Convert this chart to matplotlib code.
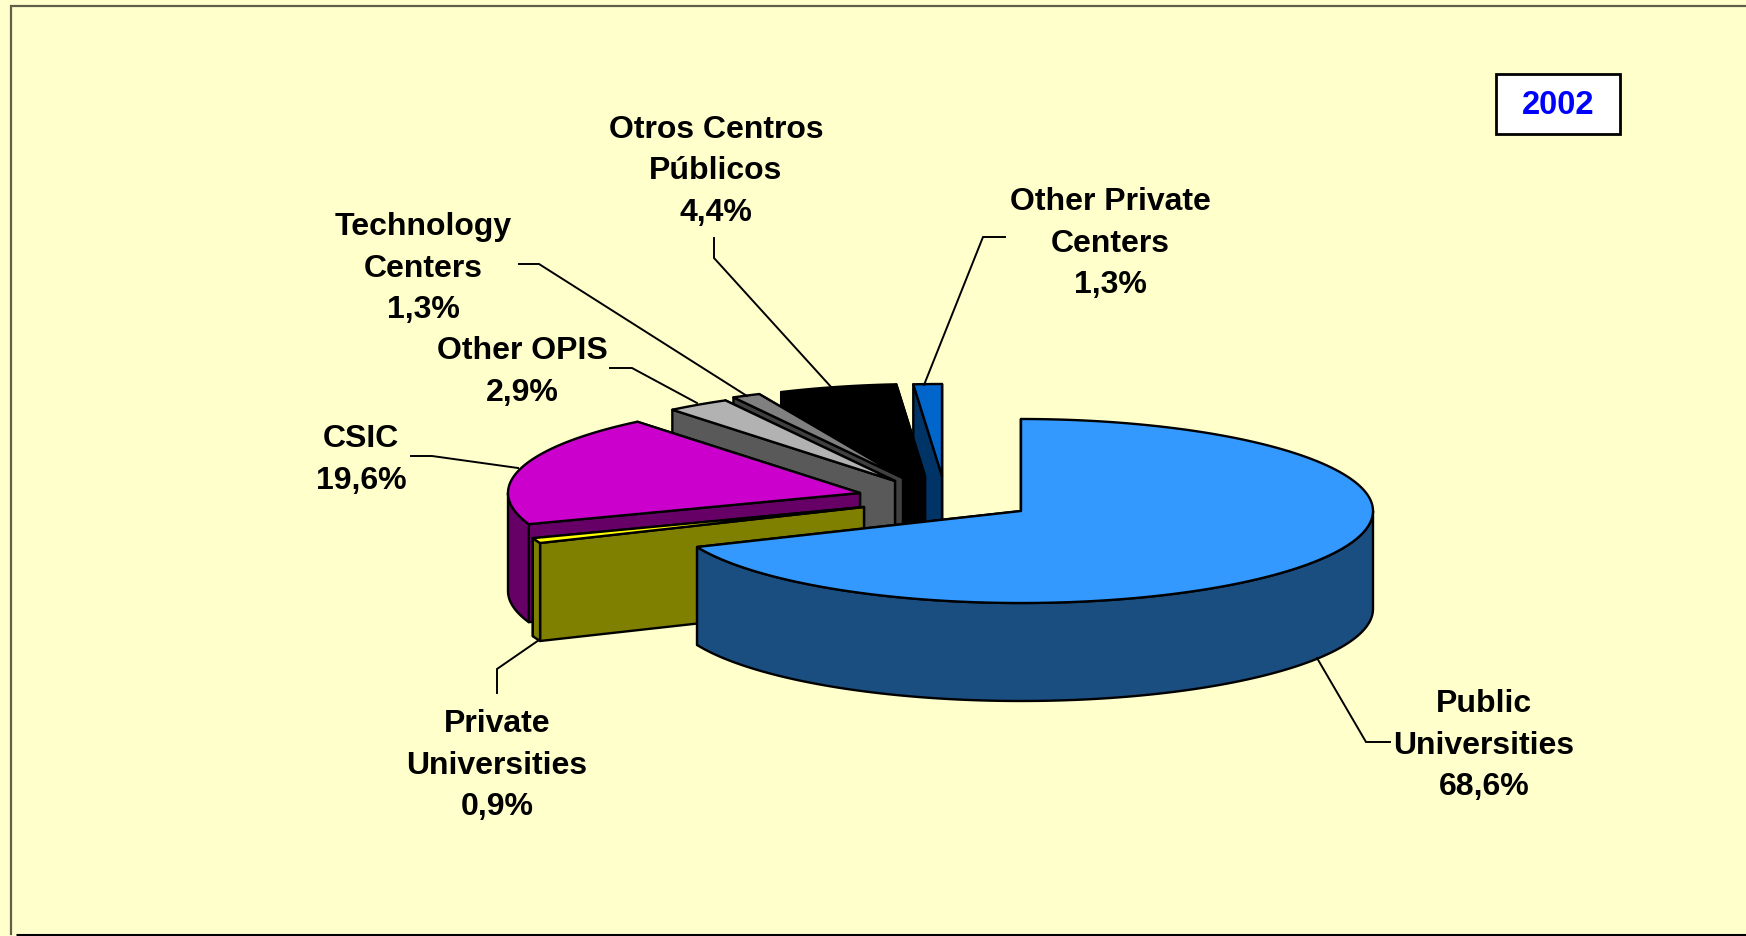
import numpy as np
import matplotlib
matplotlib.use("Agg")
import matplotlib.pyplot as plt
from matplotlib.patches import Polygon, Rectangle

plt.rcParams['font.family'] = ['Liberation Sans', 'DejaVu Sans']

# data, clockwise from 12 o'clock
names = ["Public\nUniversities", "Private\nUniversities", "CSIC", "Other OPIS",
         "Technology\nCenters", "Otros Centros\nPúblicos", "Other Private\nCenters"]
shares = [68.6, 0.9, 19.6, 2.9, 1.3, 4.4, 1.3]
year_label = "2002"

top_colors = ["#3399FF", "#FFFF00", "#CC00CC", "#B2B2B2", "#808080", "#000000", "#0066CC"]
side_colors = ["#1A4D80", "#808000", "#660066", "#595959", "#404040", "#000000", "#003366"]

# layout, in pixels of the 1746x937 picture
BG = "#FFFFCC"
CX, CY = 1021, 512
RX, RY = 352, 92
DEPTH = 98
shifts = [(0, 0), (-157, -4), (-161, -18), (-126, -30), (-118, -33), (-96, -35), (-79, -35)]
label_pos = [(1484, 746), (497, 766), (361, 460), (522, 372), (423, 269), (716, 171), (1110, 244)]
leaders = [[(1317, 659), (1366, 743), (1390, 743)],
           [(539, 641), (497, 670), (497, 694)],
           [(518, 469), (432, 457), (411, 457)],
           [(697, 404), (632, 369), (610, 369)],
           [(747, 397), (539, 265), (519, 265)],
           [(832, 389), (714, 259), (714, 239)],
           [(924, 386), (983, 238), (1005, 238)]]


def rim_xy(ax0, ay0, deg):
    t = np.radians(deg)
    return ax0 + RX * np.cos(t), ay0 - RY * np.sin(t)


def draw_wedge(ax, ax0, ay0, a1, a2, top, side):
    """a1 > a2 in degrees, drawn clockwise from a1 to a2"""
    edge = dict(edgecolor="black", linewidth=1.7, joinstyle="round")

    # radial walls, the rear one first
    for a in sorted([a1, a2], key=lambda v: -np.sin(np.radians(v))):
        x, y = rim_xy(ax0, ay0, a)
        ax.add_patch(Polygon([(ax0, ay0), (x, y), (x, y + DEPTH), (ax0, ay0 + DEPTH)],
                             facecolor=side, **edge))

    # outer wall, only the part on the front half of the ellipse
    for k in range(-1, 2):
        lo, hi = max(a2, -180 + 360 * k), min(a1, 360 * k)
        if hi > lo:
            aa = np.linspace(lo, hi, 120)
            xs, ys = rim_xy(ax0, ay0, aa)
            pts = list(zip(xs, ys)) + list(zip(xs[::-1], ys[::-1] + DEPTH))
            ax.add_patch(Polygon(pts, facecolor=side, **edge))

    # top face
    aa = np.linspace(a2, a1, 300)
    xs, ys = rim_xy(ax0, ay0, aa)
    pts = [(ax0, ay0)] + list(zip(xs, ys))
    ax.add_patch(Polygon(pts, facecolor=top, **edge))


fig = plt.figure(figsize=(17.46, 9.37), dpi=100, facecolor=BG)
ax = fig.add_axes([0, 0, 1, 1])
ax.set_xlim(0, 1746)
ax.set_ylim(937, 0)
ax.axis("off")

# outer frame
ax.plot([10.5, 10.5, 1746], [935, 7, 7], color="#5F5F4A", lw=1.6, solid_joinstyle="miter")
ax.plot([16, 1746], [936, 936], color="black", lw=2.2, solid_capstyle="butt")

# the printed shares only add up to 99, the rest went to the Otros slice in the original
drawn = list(shares)
drawn[5] += 100 - sum(shares)

ends = 90 - np.cumsum(drawn) * 3.6
starts = np.r_[90, ends[:-1]]

# back to front, last slice first
for i in range(len(shares) - 1, -1, -1):
    draw_wedge(ax, CX + shifts[i][0], CY + shifts[i][1], starts[i], ends[i],
               top_colors[i], side_colors[i])

for line in leaders:
    ax.plot(*zip(*line), color="black", lw=1.4, solid_joinstyle="miter")

for name, v, (x, y) in zip(names, shares, label_pos):
    txt = name + "\n" + f"{v:.1f}".replace(".", ",") + "%"
    ax.text(x, y, txt, ha="center", va="center", fontsize=23, fontweight="bold",
            color="black", linespacing=1.5)

ax.add_patch(Rectangle((1496, 75), 124, 60, facecolor="white", edgecolor="black", linewidth=2))
ax.text(1558, 106, year_label, ha="center", va="center", fontsize=23.5, fontweight="bold", color="#0000FF")

fig.savefig("out.png", dpi=100, facecolor=BG)
